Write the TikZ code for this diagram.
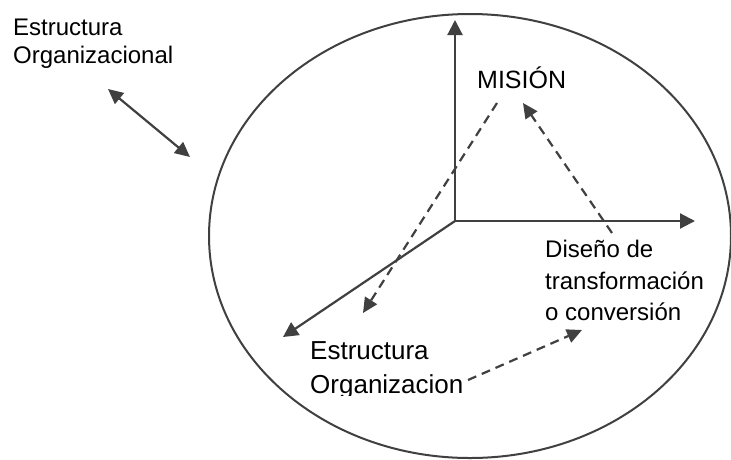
\documentclass[tikz,border=0pt]{standalone}
\usepackage{fontspec}
\setmainfont{Liberation Sans}
\usetikzlibrary{arrows.meta}
\definecolor{ink}{HTML}{404040}
\tikzset{
  solidarrow/.style={draw=ink, line width=2.2pt, -{Triangle[length=15pt,width=15pt]}},
  dasharrow/.style={draw=ink, line width=2.2pt, dash pattern=on 9pt off 6pt, -{Triangle[length=15pt,width=14pt]}},
  label/.style={inner sep=0pt, anchor=base west, text=black},
}
\begin{document}
\begin{tikzpicture}[x=1pt, y=-1pt]
  \useasboundingbox (0,0) rectangle (731,459);
  % enclosing ellipse
  \draw[ink, line width=2pt] (470,236) ellipse [x radius=261pt, y radius=222pt];

  % axes from the common origin
  \coordinate (O) at (455,221);
  \coordinate (up) at (455,20);
  \coordinate (right) at (695,221);
  \coordinate (down) at (283,337);
  \draw[solidarrow] (O) -- (up);
  \draw[solidarrow] (O) -- (right);
  \draw[solidarrow] (O) -- (down);

  % labels
  \node[label, font=\fontsize{24}{28}\selectfont] (eo1) at (13,35) {Estructura};
  \node[label, font=\fontsize{24}{28}\selectfont] (eo2) at (13,63) {Organizacional};
  \node[label, font=\fontsize{25}{30}\selectfont] (mision) at (477,88) {MISIÓN};
  \node[label, font=\fontsize{24}{30}\selectfont] (dis1) at (545,257) {Diseño de};
  \node[label, font=\fontsize{24}{30}\selectfont] (dis2) at (545,289) {transformación};
  \node[label, font=\fontsize{24}{30}\selectfont] (dis3) at (545,320) {o conversión};
  \node[label, font=\fontsize{26}{32}\selectfont] (eb1) at (310,359) {Estructura};
  \begin{scope}
    \clip (300,362) rectangle (480,395);
    \node[label, font=\fontsize{26}{32}\selectfont] (eb2) at (310,393) {Organizacion};
  \end{scope}

  % double-headed link outside the ellipse
  \coordinate (da) at (108,89);
  \coordinate (db) at (190,157);
  \draw[ink, line width=2.2pt, {Triangle[length=15pt,width=14pt]}-{Triangle[length=15pt,width=14pt]}] (da) -- (db);

  % dashed relations
  \coordinate (m1) at (497,103);
  \coordinate (m1end) at (363,313);
  \draw[dasharrow] (m1) -- (m1end);
  \coordinate (d1) at (612,233);
  \coordinate (m2) at (523,103);
  \draw[dasharrow] (d1) -- (m2);
  \coordinate (e1) at (468,380);
  \coordinate (c1) at (582,330);
  \draw[dasharrow] (e1) -- (c1);
\end{tikzpicture}
\end{document}
